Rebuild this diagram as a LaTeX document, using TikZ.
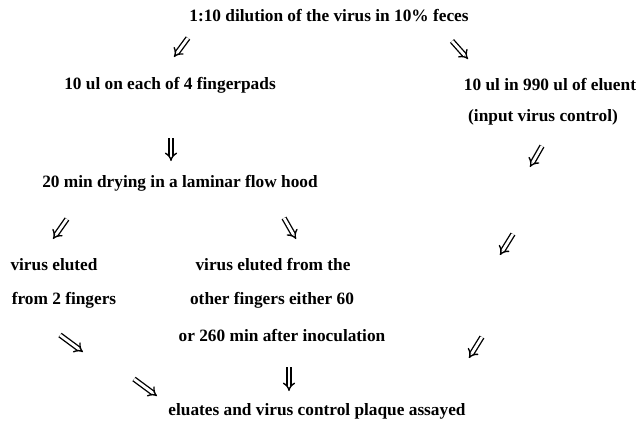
\documentclass[tikz,border=0pt]{standalone}
\usepackage{fontspec}
\setmainfont{Liberation Serif}
\usetikzlibrary{arrows.meta}
\begin{document}
\begin{tikzpicture}[x=1pt,y=-1pt,
  lbl/.style={font=\bfseries\fontsize{17.3}{20}\selectfont, inner sep=0pt, text=black},
  dbl/.style={double, double distance=2.8pt, line width=1.35pt, -{Implies}}]
\useasboundingbox (0,0) rectangle (642,429);
\fill[white] (0,0) rectangle (642,429);
% texts
\node[lbl] (top) at (329,16) {1:10 dilution of the virus in 10\% feces};
\node[lbl] (pads) at (170,85) {10 ul on each of 4 fingerpads};
\node[lbl] (eluent) at (550,85) {10 ul in 990 ul of eluent};
\node[lbl] (ctrl) at (543,117) {(input virus control)};
\node[lbl] (dry) at (180,183) {20 min drying in a laminar flow hood};
\node[lbl] (two1) at (54,265) {virus eluted};
\node[lbl] (two2) at (64,300) {from 2 fingers};
\node[lbl] (oth1) at (273,265) {virus eluted from the};
\node[lbl] (oth2) at (272,300) {other fingers either 60};
\node[lbl] (oth3) at (282,336) {or 260 min after inoculation};
\node[lbl] (assay) at (317,411) {eluates and virus control plaque assayed};
% arrows
\coordinate (a1s) at (188,38); \coordinate (a1e) at (174,57);
\coordinate (a2s) at (452,41); \coordinate (a2e) at (468,59);
\coordinate (a3s) at (171,138); \coordinate (a3e) at (171,161);
\coordinate (a4s) at (542,146); \coordinate (a4e) at (530,167);
\coordinate (a5s) at (67,219); \coordinate (a5e) at (53,239);
\coordinate (a6s) at (284,218); \coordinate (a6e) at (296,239);
\coordinate (a7s) at (513,234); \coordinate (a7e) at (500,255);
\coordinate (a8s) at (60,335); \coordinate (a8e) at (83,352);
\coordinate (a9s) at (482,337); \coordinate (a9e) at (469,358);
\coordinate (a10s) at (134,379); \coordinate (a10e) at (157,396);
\coordinate (a11s) at (289,367); \coordinate (a11e) at (289,391);
\foreach \i in {1,...,11} {\draw[dbl] (a\i s) -- (a\i e);}
\end{tikzpicture}
\end{document}
